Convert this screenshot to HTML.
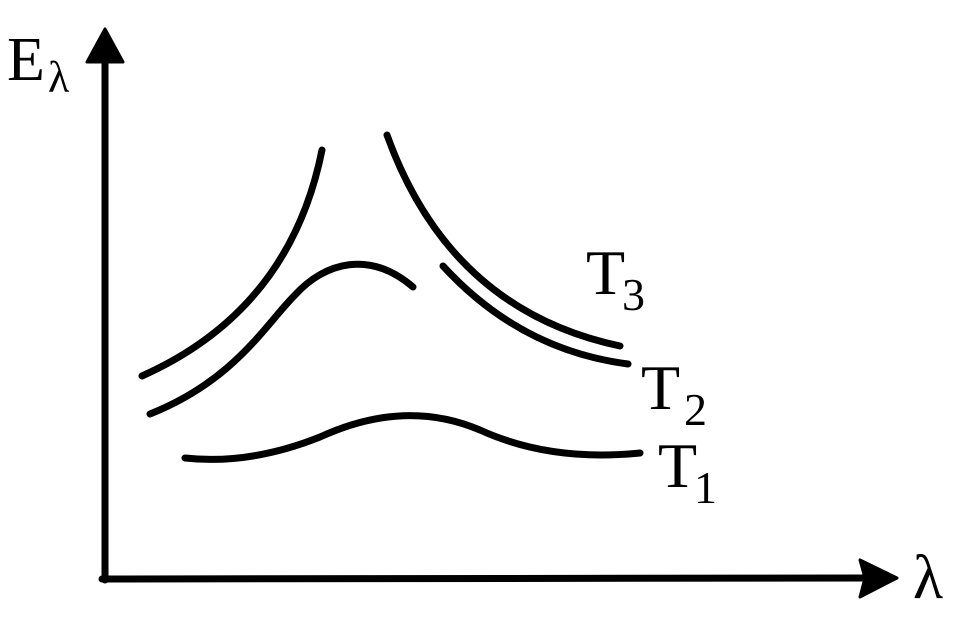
<!DOCTYPE html>
<html><head><style>html,body{margin:0;padding:0;background:#fff}svg{display:block}</style></head>
<body>
<svg width="964" height="625" viewBox="0 0 964 625" xmlns="http://www.w3.org/2000/svg">
<g stroke="#000" stroke-width="7" fill="none" stroke-linecap="round">
<line x1="105" y1="60" x2="105" y2="580"/>
<line x1="102" y1="579" x2="870" y2="578"/>
<path d="M142,376 Q290,310 322,150"/>
<path d="M387,135 Q450,310 620,346"/>
<path d="M150,414 C235,380 265,325 295,295 C325,262 370,250 413,287"/>
<path d="M443,266 Q520,350 628,364"/>
<path d="M185,458 Q250,465 320,437 Q405,398 480,430 Q550,462 640,453"/>
</g>
<polygon points="105,29 123,62 87,62" fill="#000" stroke="#000" stroke-width="3" stroke-linejoin="round"/>
<polygon points="897,578 860,560 865,578 860,597" fill="#000" stroke="#000" stroke-width="3" stroke-linejoin="round"/>
<g font-family="Liberation Serif, serif" fill="#000">
<text x="7" y="80" font-size="62">E</text>
<text x="48" y="92" font-size="44">λ</text>
<text x="913" y="598" font-size="62">λ</text>
<text x="586" y="294" font-size="64">T</text>
<text x="622" y="310" font-size="46">3</text>
<text x="641" y="409" font-size="64">T</text>
<text x="684" y="425" font-size="46">2</text>
<text x="658" y="487" font-size="64">T</text>
<text x="694" y="503" font-size="46">1</text>
</g>
</svg>
</body></html>
